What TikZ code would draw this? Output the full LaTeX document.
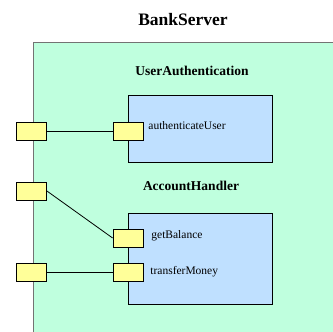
\documentclass[tikz,border=0pt]{standalone}
\usepackage{fontspec}
\setmainfont{Liberation Serif}
\usetikzlibrary{positioning}

\definecolor{serverfill}{RGB}{191,255,222}
\definecolor{partfill}{RGB}{191,224,255}
\definecolor{portfill}{RGB}{255,255,153}

\tikzset{
  port/.style={draw, fill=portfill, minimum width=30pt, minimum height=18pt, inner sep=0pt},
  part/.style={draw, fill=partfill, minimum width=144pt, inner sep=0pt},
  title/.style={font=\bfseries\fontsize{13.5}{15}\selectfont},
  oplabel/.style={anchor=west, inner sep=0pt, font=\fontsize{11.5}{13}\selectfont}
}

\begin{document}
\begin{tikzpicture}[x=1pt, y=-1pt, line width=0.8pt]
\useasboundingbox (0,0) rectangle (333,332);
\clip (0,0) rectangle (333,332);

% the server component
\filldraw[fill=serverfill, draw=black!55] (33,42) rectangle (345,345);
\node[font=\bfseries\fontsize{17.5}{20}\selectfont] (server) at (183,20) {BankServer};

% parts
\node[title] (authTitle) at (192,71) {UserAuthentication};
\node[part, minimum height=67pt] (auth) at (200,128.5) {};
\node[title] (accTitle) at (191,186) {AccountHandler};
\node[part, minimum height=91pt] (acc) at (200,258.5) {};

% ports on the server
\node[port] (lp1) at (31.5,131) {};
\node[port] (lp2) at (31.5,191) {};
\node[port] (lp3) at (31.5,272) {};

% ports on the parts
\node[port] (ip1) at (128,131) {};
\node[port] (ip2) at (128,238) {};
\node[port] (ip3) at (128,272) {};

\node[oplabel] (op1) at (148,126) {authenticateUser};
\node[oplabel] (op2) at (151,236) {getBalance};
\node[oplabel] (op3) at (150,272) {transferMoney};

% delegation lines
\draw (lp1) -- (ip1);
\draw (lp2.east) -- (ip2.west);
\draw (lp3) -- (ip3);

\end{tikzpicture}
\end{document}
